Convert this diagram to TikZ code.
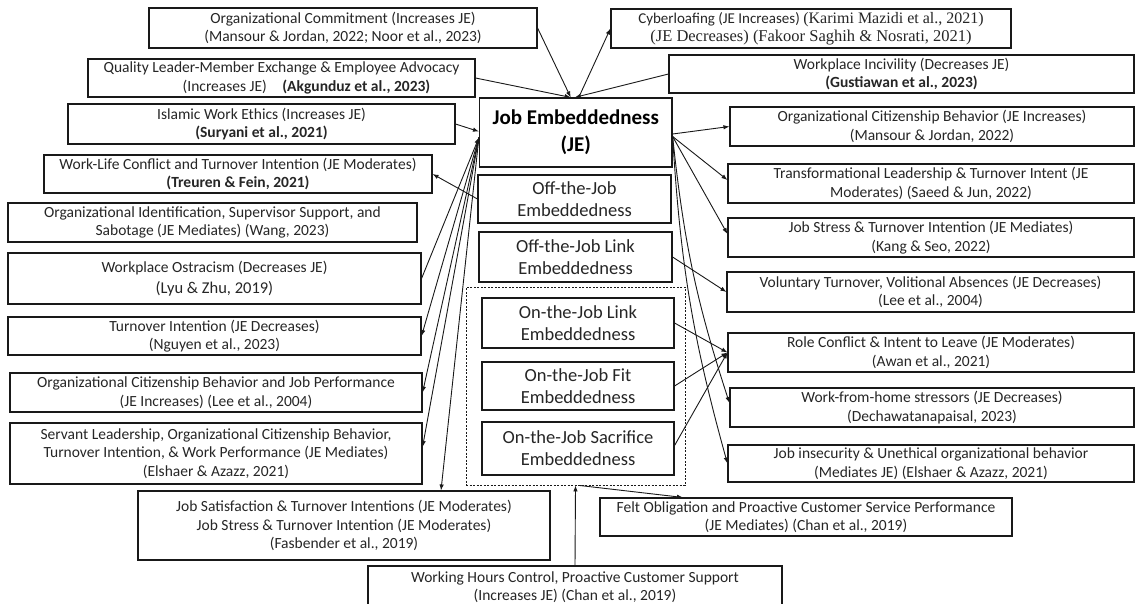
\documentclass[tikz,border=0pt]{standalone}
\usepackage{fontspec}
\setmainfont{Carlito}
\newfontfamily\timesfont{Liberation Serif}
\usetikzlibrary{arrows.meta}

\begin{document}
\begin{tikzpicture}[x=1pt,y=-1pt,
  box/.style={draw=black!90, line width=1.1pt, inner sep=0pt, align=center,
    text=black!85, font=\fontsize{15.5}{18.5}\selectfont},
  dimbox/.style={box, font=\fontsize{18.5}{22}\selectfont},
  jebox/.style={box, line width=1.2pt, font=\fontsize{21}{27}\selectfont\bfseries, text=black},
  conn/.style={draw=black!90, line width=0.9pt, -{Latex[length=6pt,width=4.5pt]}},
  plain/.style={draw=black!90, line width=0.9pt}]

\clip (0,0) rectangle (1139,603);
\fill[white] (0,0) rectangle (1139,603);

% central construct and its dimensions
\node[jebox, minimum width=192.5pt, minimum height=69pt] (je) at (575.75,132.5)
  {Job Embeddedness\\(JE)};
\node[dimbox, minimum width=193pt, minimum height=48pt] (offjob) at (574.5,199)
  {Off-the-Job\\Embeddedness};
\node[dimbox, minimum width=193pt, minimum height=50pt] (offlink) at (575.5,257)
  {Off-the-Job Link\\Embeddedness};
\node[draw=black!90, line width=0.9pt, dash pattern=on 2pt off 1.5pt,
  minimum width=219pt, minimum height=198pt, inner sep=0pt] (grp) at (575.5,386) {};
\node[dimbox, minimum width=192pt, minimum height=50pt] (onlink) at (578,323)
  {On-the-Job Link\\Embeddedness};
\node[dimbox, minimum width=192pt, minimum height=48pt] (onfit) at (578,386)
  {On-the-Job Fit\\Embeddedness};
\node[dimbox, minimum width=192pt, minimum height=53pt] (onsac) at (578,448.5)
  {On-the-Job Sacrifice\\Embeddedness};

% top row
\node[box, minimum width=388pt, minimum height=40pt] (orgcom) at (343,28)
  {Organizational Commitment (Increases JE)\\(Mansour \& Jordan, 2022; Noor et al., 2023)};
\node[box, minimum width=400pt, minimum height=39pt] (cyber) at (811,28.5)
  {{\fontsize{15}{18}\selectfont Cyberloafing (JE Increases)} {\timesfont\fontsize{16}{19}\selectfont (Karimi Mazidi et al., 2021)}\\
   {\timesfont\fontsize{16.5}{19}\selectfont (JE Decreases) (Fakoor Saghih \& Nosrati, 2021)}};
\node[box, minimum width=465pt, minimum height=38pt] (incivil) at (901.5,74)
  {Workplace Incivility (Decreases JE)\\\textbf{(Gustiawan et al., 2023)}};

% left column
\node[box, minimum width=387pt, minimum height=38pt] (lmx) at (281.5,78)
  {Quality Leader-Member Exchange \& Employee Advocacy\\
   \hspace*{50pt}(Increases JE)\quad\textbf{(Akgunduz et al., 2023)}};
\node[box, minimum width=387pt, minimum height=40pt] (iwe) at (261.5,124)
  {Islamic Work Ethics (Increases JE)\\\textbf{(Suryani et al., 2021)}};
\node[box, minimum width=388pt, minimum height=38pt] (wlc) at (238,174)
  {Work-Life Conflict and Turnover Intention (JE Moderates)\\\textbf{(Treuren \& Fein, 2021)}};
\node[box, minimum width=409pt, minimum height=39pt] (oid) at (212.5,222.5)
  {Organizational Identification, Supervisor Support, and\\Sabotage (JE Mediates) (Wang, 2023)};
\node[box, minimum width=413pt, minimum height=51pt] (ost) at (214.5,278.5)
  {Workplace Ostracism (Decreases JE)\\[3pt]{\fontsize{16.5}{18.5}\selectfont(Lyu \& Zhu, 2019)}};
\node[box, minimum width=413pt, minimum height=38pt] (turn) at (214.5,336)
  {Turnover Intention (JE Decreases)\\(Nguyen et al., 2023)};
\node[box, minimum width=412pt, minimum height=39pt] (ocbjp) at (216,392.5)
  {Organizational Citizenship Behavior and Job Performance\\(JE Increases) (Lee et al., 2004)};
\node[box, minimum width=412pt, minimum height=61pt] (serv) at (216,453.5)
  {Servant Leadership, Organizational Citizenship Behavior,\\Turnover Intention, \& Work Performance (JE Mediates)\\(Elshaer \& Azazz, 2021)};
\node[box, minimum width=412pt, minimum height=69pt] (jsat) at (344,525.5)
  {Job Satisfaction \& Turnover Intentions (JE Moderates)\\Job Stress \& Turnover Intention (JE Moderates)\\(Fasbender et al., 2019)};
\node[box, minimum width=414pt, minimum height=42pt] (whc) at (575,587)
  {Working Hours Control, Proactive Customer Support\\(Increases JE) (Chan et al., 2019)};

% right column
\node[box, minimum width=404pt, minimum height=39pt] (ocb) at (932,126.5)
  {Organizational Citizenship Behavior (JE Increases)\\(Mansour \& Jordan, 2022)};
\node[box, minimum width=406pt, minimum height=39pt] (trans) at (931,183.5)
  {Transformational Leadership \& Turnover Intent (JE\\Moderates) (Saeed \& Jun, 2022)};
\node[box, minimum width=406pt, minimum height=39pt] (jstress) at (931,237.5)
  {Job Stress \& Turnover Intention (JE Mediates)\\(Kang \& Seo, 2022)};
\node[box, minimum width=407pt, minimum height=40pt] (vol) at (930.5,292)
  {Voluntary Turnover, Volitional Absences (JE Decreases)\\(Lee et al., 2004)};
\node[box, minimum width=406pt, minimum height=39pt] (role) at (931,352.5)
  {Role Conflict \& Intent to Leave (JE Moderates)\\(Awan et al., 2021)};
\node[box, minimum width=404pt, minimum height=39pt] (wfh) at (932,407.5)
  {Work-from-home stressors (JE Decreases)\\(Dechawatanapaisal, 2023)};
\node[box, minimum width=406pt, minimum height=37pt] (jins) at (931,463.5)
  {Job insecurity \& Unethical organizational behavior\\(Mediates JE) (Elshaer \& Azazz, 2021)};
\node[box, minimum width=412pt, minimum height=38pt] (felt) at (806,517)
  {Felt Obligation and Proactive Customer Service Performance\\(JE Mediates) (Chan et al., 2019)};

% antecedents entering JE from above
\draw[conn] (orgcom.east) -- ([xshift=-5pt]je.north);
\draw[conn] (lmx.east) -- ([xshift=-5pt]je.north);
\draw[conn] (incivil.west) -- ([xshift=-1pt]je.north);
\draw[conn] ([xshift=3pt]je.north) -- (cyber.west);

% left side
\draw[conn] (iwe.east) -- ([yshift=1pt]je.west);
\draw[conn] (offjob.west) -- (wlc.east);
\coordinate (lfan) at ([yshift=-5pt]je.west);
\draw[conn] (ost.east) -- (lfan);
\draw[conn] (lfan) -- (turn.east);
\draw[conn] (lfan) -- (ocbjp.east);
\draw[conn] (lfan) -- ([yshift=6.5pt]serv.east);
\draw[conn] (lfan) -- ([xshift=97pt]jsat.north);

% right side
\coordinate (rfan) at ([yshift=-4pt]je.east);
\draw[conn] ([yshift=-1.5pt]je.east) -- (ocb.west);
\draw[conn] (rfan) -- ([yshift=3.5pt]trans.west);
\draw[conn] (rfan) -- ([yshift=3.5pt]jstress.west);
\draw[conn] (rfan) to[bend right=6] ([yshift=4.5pt]wfh.west);
\draw[conn] (rfan) to[bend right=6] (jins.west);
\draw[conn] (offlink.east) -- (vol.west);
\draw[conn] (onlink.east) -- (role.west);
\draw[conn] (onfit.east) -- (role.west);
\draw[conn] ([yshift=3pt]onsac.east) -- (role.west);

% below the on-the-job group
\draw[conn] ([xshift=4pt]grp.south) -- ([xshift=-123pt]felt.north);
\draw[conn] (whc.north) -- (grp.south);
\end{tikzpicture}
\end{document}
